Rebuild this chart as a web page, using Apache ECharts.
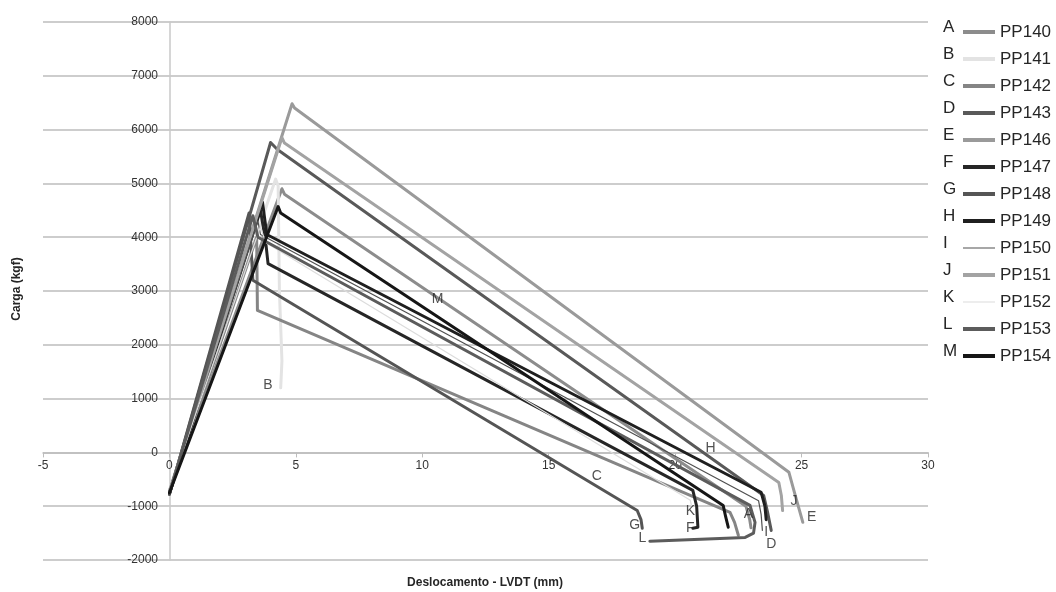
<!DOCTYPE html>
<html>
<head>
<meta charset="utf-8">
<script src="https://cdn.jsdelivr.net/npm/echarts@6/dist/echarts.min.js"></script>
<style>html,body{margin:0;padding:0;background:#fff}#c{width:1056px;height:592px}</style>
</head>
<body>
<div id="c"></div>
<script>
// ---- data (x = displacement mm, y = load kgf) ----
var seriesNames = ['PP140','PP141','PP142','PP143','PP146','PP147','PP148','PP149','PP150','PP151','PP152','PP153','PP154'];
var seriesLetters = ['A','B','C','D','E','F','G','H','I','J','K','L','M'];
var xTicks = [-5, 0, 5, 10, 15, 20, 25, 30];
var yTicks = [-2000, -1000, 0, 1000, 2000, 3000, 4000, 5000, 6000, 7000, 8000];

var pp140 = [[0,-720],[4.45,4900],[4.55,4800],[22.8,-1000],[22.95,-1250],[23.0,-1400]];
var pp141 = [[0,-700],[4.2,5080],[4.3,4950],[4.35,3000],[4.45,1700],[4.4,1200]];
var pp142 = [[0,-740],[3.45,4000],[3.48,2640],[22.17,-1115],[22.35,-1300],[22.5,-1540]];
var pp143 = [[0,-780],[4.0,5760],[4.27,5630],[23.5,-800],[23.65,-1100],[23.8,-1450]];
var pp146 = [[0,-720],[4.85,6480],[4.95,6400],[24.5,-370],[24.75,-800],[25.05,-1300]];
var pp147 = [[0,-760],[3.6,4500],[3.8,3940],[3.9,3510],[20.7,-705],[20.85,-1000],[20.9,-1390],[20.7,-1410]];
var pp148 = [[0,-780],[3.15,4450],[3.3,3200],[18.5,-1080],[18.65,-1250],[18.7,-1410]];
var pp149 = [[0,-760],[3.68,4650],[3.85,4050],[23.4,-740],[23.55,-1000],[23.6,-1250]];
var pp150 = [[0,-740],[3.5,4300],[3.6,4050],[23.3,-900],[23.4,-1150],[23.45,-1450]];
var pp151 = [[0,-730],[4.45,5850],[4.55,5750],[24.1,-560],[24.2,-800],[24.25,-1080]];
var pp152 = [[0,-700],[3.6,4200],[3.8,3900],[20.6,-890],[20.65,-1000]];
var pp153 = [[0,-760],[3.3,4400],[3.5,4000],[22.96,-985],[23.16,-1300],[23.1,-1500],[22.77,-1580],[19.0,-1650]];
var pp154 = [[0,-750],[4.3,4570],[4.4,4450],[21.9,-985],[22.0,-1200],[22.1,-1390]];

var seriesData = [pp140,pp141,pp142,pp143,pp146,pp147,pp148,pp149,pp150,pp151,pp152,pp153,pp154];
var seriesColors = ['#8c8c8c','#e3e3e3','#858585','#595959','#9a9a9a','#262626','#555555','#1f1f1f','#505050','#a3a3a3','#dcdcdc','#5c5c5c','#161616'];
var seriesWidths = [3,3,3,3,3,3,3,3,1.2,3,1.2,3,3];

// ---- labels placed on the plot (letter, x, y in data units) ----
var plotLabels = [
  ['A',22.9,-1150],['B',3.9,1250],['C',16.9,-450],['D',23.8,-1700],['E',25.4,-1200],
  ['F',20.6,-1400],['G',18.4,-1350],['H',21.4,80],['I',23.6,-1480],['J',24.7,-900],
  ['K',20.6,-1100],['L',18.7,-1600],['M',10.6,2850]
];

var chart = echarts.init(document.getElementById('c'), null, {renderer:'canvas'});
var FONT = 'Liberation Sans, Arial, sans-serif';

var series = seriesNames.map(function(n,i){
  return {
    name:n, type:'line', data:seriesData[i], symbol:'none', showSymbol:false, smooth:false,
    lineStyle:{color:seriesColors[i], width:seriesWidths[i], join:'round', cap:'round'},
    itemStyle:{color:seriesColors[i]},
    z: 2, animation:false
  };
});
series.push({
  type:'scatter', data:plotLabels.map(function(l){return {value:[l[1],l[2]], name:l[0]};}),
  symbolSize:0, silent:true, z:5,
  label:{show:true, position:'inside', formatter:function(p){return p.name;}, color:'#262626', fontSize:14, fontFamily:FONT}
});

var legendTop = 17, legendPitch = 27;
var thinIcon = 'path://M0,0L1,0M0,1.6L32,1.6L32,2.6L0,2.6ZM0,4L1,4';
var legendData = seriesNames.map(function(n,i){
  return {name:n, icon: seriesWidths[i] < 2 ? thinIcon : 'rect', itemStyle:{color:seriesColors[i]}};
});
var graphics = seriesLetters.map(function(l,i){
  return {type:'text', left:943, top:legendTop + i*legendPitch + 2,
    style:{text:l, font:'17px '+FONT, fill:'#262626'}};
});
graphics.push({type:'text', x:17, y:289, rotation:Math.PI/2,
  style:{text:'Carga (kgf)', font:'bold 12px '+FONT, fill:'#262626', textAlign:'center', textVerticalAlign:'middle'}});
graphics.push({type:'text', x:485, y:583,
  style:{text:'Deslocamento - LVDT (mm)', font:'bold 12px '+FONT, fill:'#262626', textAlign:'center', textVerticalAlign:'middle'}});

chart.setOption({
  animation:false,
  backgroundColor:'#fff',
  grid:{left:43, right:128, top:22, bottom:32, containLabel:false, outerBoundsMode:'none'},
  xAxis:{type:'value', min:xTicks[0], max:xTicks[xTicks.length-1], interval:5,
    axisLine:{onZero:true, lineStyle:{color:'#bdbdbd', width:1.5}},
    axisTick:{show:true, length:5, inside:false, lineStyle:{color:'#bdbdbd'}},
    axisLabel:{color:'#333', fontSize:12, fontFamily:FONT, margin:-100, formatter:function(v){return String(v);}},
    splitLine:{show:false}},
  yAxis:{type:'value', min:yTicks[0], max:yTicks[yTicks.length-1], interval:1000,
    axisLine:{show:true, onZero:true, lineStyle:{color:'#c8c8c8', width:1.5}},
    axisTick:{show:false},
    axisLabel:{color:'#333', fontSize:12, fontFamily:FONT, margin:-115, formatter:function(v){return String(v);}},
    splitLine:{show:true, lineStyle:{color:'#bdbdbd', width:1.5}}},
  legend:{orient:'vertical', left:958, top:legendTop, itemWidth:32, itemHeight:4, itemGap:legendPitch-20, itemTextGap:4,
    data:legendData, selectedMode:false,
    textStyle:{fontSize:17, fontFamily:FONT, color:'#262626', lineHeight:20}},
  graphic:graphics,
  series:series
});
</script>
</body>
</html>
